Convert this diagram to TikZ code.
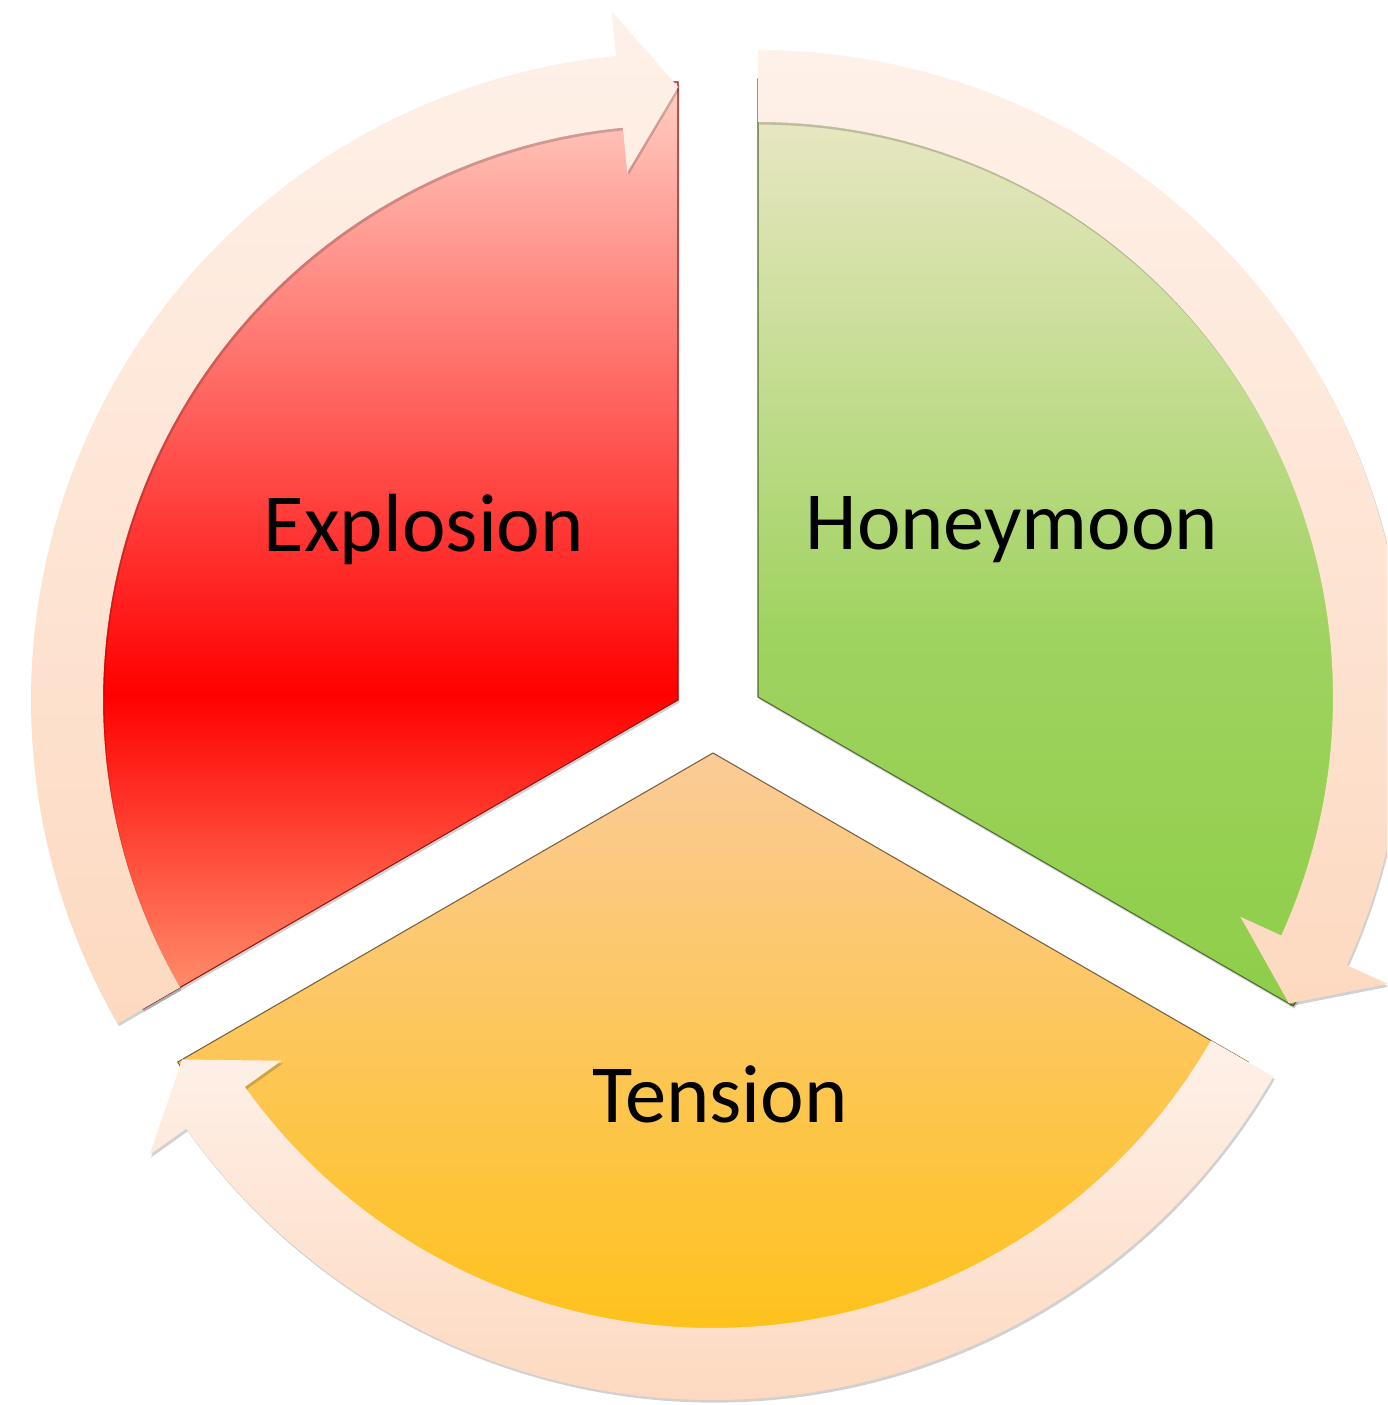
\documentclass[tikz,border=0pt]{standalone}
\usepackage{fontspec}
\setmainfont{Carlito}
\usepackage{xcolor}
\usepackage{tikz}
\usetikzlibrary{shadows}
\definecolor{expTop}{RGB}{255,207,196}
\definecolor{expRed}{RGB}{255,0,0}
\definecolor{expBottom}{RGB}{255,150,114}
\definecolor{expLine}{RGB}{150,20,20}
\definecolor{honTop}{RGB}{238,232,202}
\definecolor{honBottom}{RGB}{142,206,72}
\definecolor{honLine}{RGB}{80,105,50}
\definecolor{tenTop}{RGB}{251,203,152}
\definecolor{tenBottom}{RGB}{255,192,0}
\definecolor{tenLine}{RGB}{120,95,60}
\definecolor{ringTop}{RGB}{254,241,233}
\definecolor{ringBottom}{RGB}{253,217,192}
\pgfdeclareverticalshading{explosionshade}{100bp}{color(0bp)=(expBottom); color(25bp)=(expBottom); color(42bp)=(expRed); color(75bp)=(expTop); color(100bp)=(expTop)}
\pgfdeclareverticalshading{honeymoonshade}{100bp}{color(0bp)=(honBottom); color(25bp)=(honBottom); color(45bp)=(honBottom!82!honTop); color(75bp)=(honTop); color(100bp)=(honTop)}

\begin{document}
\begin{tikzpicture}[x=0.02cm, y=0.02cm,
  softshadow/.style={drop shadow={shadow xshift=0.8pt, shadow yshift=-1.5pt, opacity=0.18, fill=black}},
  ring/.style={top color=ringTop, bottom color=ringBottom, softshadow},
  stage/.style={font=\fontsize{47}{56}\selectfont, text=black, anchor=base}]
\useasboundingbox (0,0) rectangle (1387,1405);
\clip (0,0) rectangle (1387,1405);

\coordinate (vExp) at (678,705);
\coordinate (vHon) at (758,708);
\coordinate (vTen) at (713,652);

% the three stages
\begin{scope}[shift={(vExp)}]
\shade[shading=explosionshade, draw=expLine, line width=0.6pt, softshadow]
(0,0) -- (90:618) arc[start angle=90, end angle=210, radius=618] -- cycle;
\end{scope}

\begin{scope}[shift={(vHon)}]
\shade[shading=honeymoonshade, draw=honLine, line width=0.6pt, softshadow]
(0,0) -- (-30:618) arc[start angle=-30, end angle=90, radius=618] -- cycle;
\end{scope}

\begin{scope}[shift={(vTen)}]
\shade[top color=tenTop, bottom color=tenBottom, draw=tenLine, line width=0.6pt, softshadow]
(0,0) -- (210:618) arc[start angle=210, end angle=330, radius=618] -- cycle;
\end{scope}

% arrows round the cycle
\begin{scope}[shift={(vExp)}]
\shade[ring] (210:647) arc[start angle=210, end angle=95.5, radius=647] -- (95.5:692) -- (90:613)
-- (95.5:530) -- (95.5:575) arc[start angle=95.5, end angle=210, radius=575] -- cycle;
\end{scope}

\begin{scope}[shift={(vHon)}]
\shade[ring] (90:647) arc[start angle=90, end angle=-24.5, radius=647] -- (-24.5:692) -- (-30:613)
-- (-24.5:530) -- (-24.5:575) arc[start angle=-24.5, end angle=90, radius=575] -- cycle;
\end{scope}

\begin{scope}[shift={(vTen)}]
\shade[ring] (-30:647) arc[start angle=-30, end angle=-144.5, radius=647] -- (-144.5:692) -- (-150:613)
-- (-144.5:530) -- (-144.5:575) arc[start angle=-144.5, end angle=-30, radius=575] -- cycle;
\end{scope}

\node[stage] (explosion) at (424,853) {Explosion};
\node[stage] (honeymoon) at (1012,855) {Honeymoon};
\node[stage] (tension) at (720,282) {Tension};
\end{tikzpicture}
\end{document}
